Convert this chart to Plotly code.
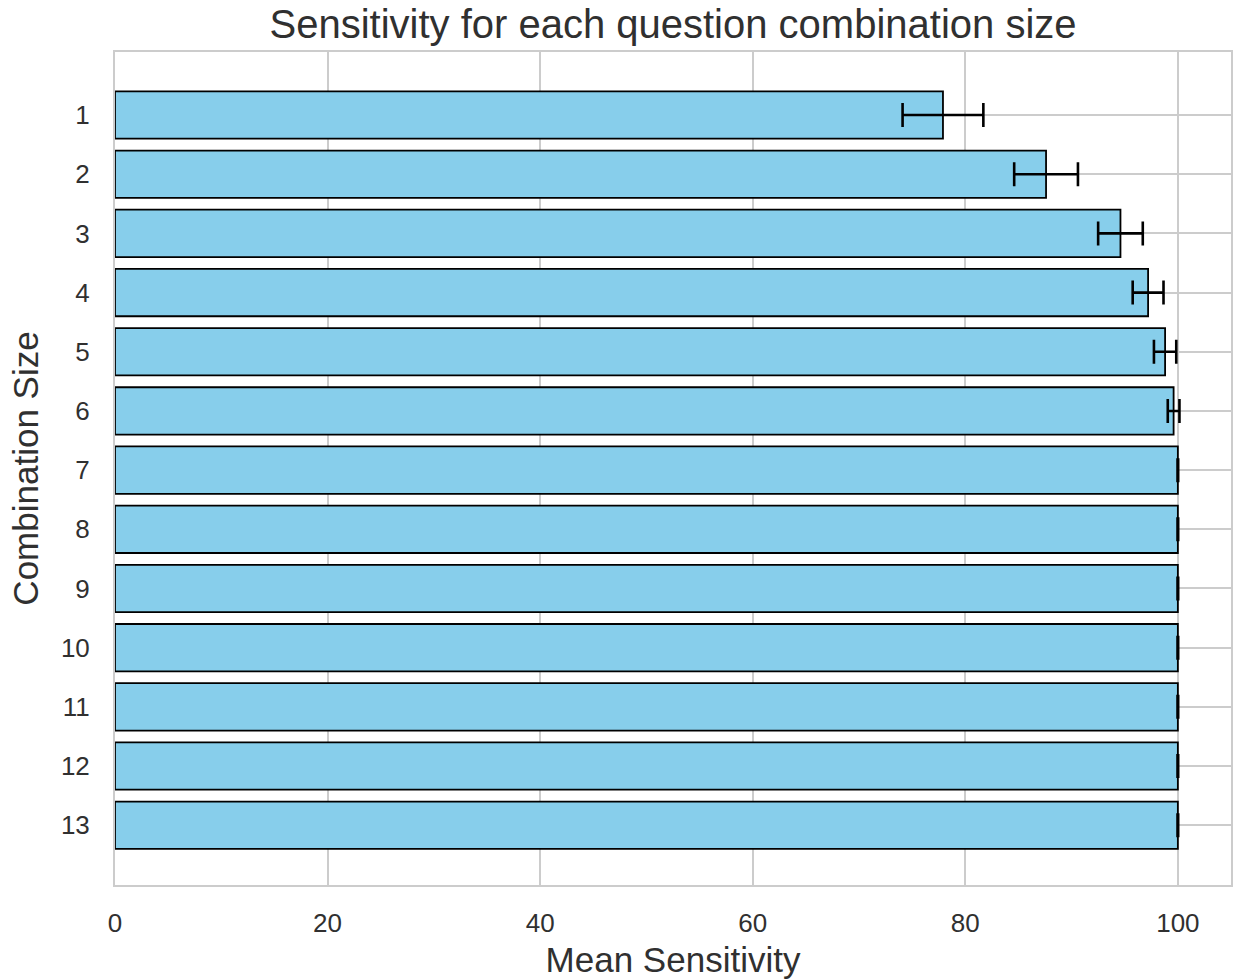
import plotly.graph_objects as go

sizes = [1, 2, 3, 4, 5, 6, 7, 8, 9, 10, 11, 12, 13]
mean_sensitivity = [77.9, 87.6, 94.6, 97.2, 98.8, 99.6, 100, 100, 100, 100, 100, 100, 100]
std_error = [3.8, 3.0, 2.1, 1.45, 1.05, 0.55, 0.03, 0.03, 0.03, 0.03, 0.03, 0.03, 0.03]
x_ticks = [0, 20, 40, 60, 80, 100]

text_color = "#303030"
grid_color = "#cccccc"
font_family = "Liberation Sans, Arial, sans-serif"

fig = go.Figure()
fig.add_trace(go.Bar(
    x=mean_sensitivity,
    y=sizes,
    orientation="h",
    width=0.8,
    marker=dict(color="#87CEEB", line=dict(color="black", width=1.8)),
    error_x=dict(type="data", array=std_error, visible=True,
                 color="black", thickness=2.6, width=12),
))

fig.update_layout(
    width=1236, height=980,
    paper_bgcolor="white", plot_bgcolor="white",
    margin=dict(l=115, r=5, t=52, b=95, autoexpand=False),
    showlegend=False,
    font=dict(family=font_family, color=text_color),
    title=dict(text="Sensitivity for each question combination size",
               x=0.5, xref="paper", xanchor="center",
               y=1 - 24 / 980, yref="container", yanchor="middle",
               font=dict(size=40, color=text_color, family=font_family)),
    xaxis=dict(
        range=[0, 105], tickvals=x_ticks, ticktext=[str(v) for v in x_ticks],
        showgrid=True, gridcolor=grid_color, gridwidth=1.5,
        showline=True, linecolor=grid_color, linewidth=2, mirror=True,
        zeroline=False, automargin=False,
        ticks="outside", ticklen=14, tickcolor="rgba(0,0,0,0)",
        tickfont=dict(size=26, color=text_color),
        title=dict(text="Mean Sensitivity", font=dict(size=35, color=text_color), standoff=10),
    ),
    yaxis=dict(
        range=[14.01, -0.065], tickvals=sizes, ticktext=[str(s) for s in sizes],
        showgrid=True, gridcolor=grid_color, gridwidth=1.5,
        showline=True, linecolor=grid_color, linewidth=2, mirror=True,
        zeroline=False, automargin=False,
        ticks="outside", ticklen=18, tickcolor="rgba(0,0,0,0)",
        tickfont=dict(size=26, color=text_color),
        title=dict(text="Combination Size", font=dict(size=35, color=text_color), standoff=12),
    ),
)

fig.write_html("out.html", config={"displayModeBar": False},
               post_script="document.body.style.margin='0px';document.body.style.overflow='hidden';")
